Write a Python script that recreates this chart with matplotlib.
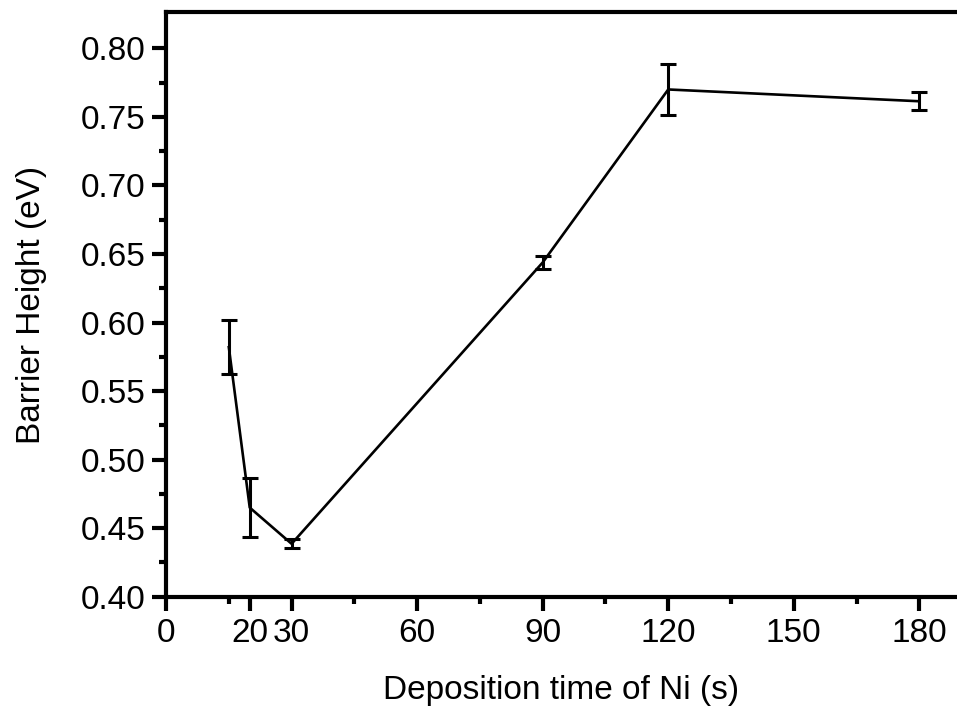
import matplotlib
matplotlib.use("Agg")
import matplotlib.pyplot as plt

plt.rcParams['font.family'] = ['Liberation Sans', 'DejaVu Sans']

# data
time_s = [15, 20, 30, 90, 120, 180]
barrier = [0.582, 0.465, 0.4386, 0.6438, 0.770, 0.7614]
barrier_err = [0.0198, 0.0216, 0.0033, 0.0048, 0.0186, 0.0065]

major_x = [0, 20, 30, 60, 90, 120, 150, 180]
minor_x = [15, 45, 75, 105, 135, 165]
major_y = [0.40, 0.45, 0.50, 0.55, 0.60, 0.65, 0.70, 0.75, 0.80]
minor_y = [0.425, 0.475, 0.525, 0.575, 0.625, 0.675, 0.725, 0.775]

fig = plt.figure(figsize=(9.57, 7.06), dpi=100)
ax = fig.add_axes([0.1735, 0.1548, 0.8265, 0.8278])

ax.errorbar(time_s, barrier, yerr=barrier_err, color='black', lw=1.9,
            elinewidth=2.2, capsize=5.5, capthick=2.2)

ax.set_xlim(0, 189)
ax.set_ylim(0.40, 0.8263)
ax.set_xticks(major_x)
ax.set_xticks(minor_x, minor=True)
ax.set_yticks(major_y)
ax.set_yticks(minor_y, minor=True)
ax.set_yticklabels(['%.2f' % v for v in major_y])

ax.spines['right'].set_visible(False)
for s in ['left', 'bottom', 'top']:
    ax.spines[s].set_linewidth(3)

ax.tick_params(which='major', direction='out', length=10, width=3, labelsize=24)
ax.tick_params(which='minor', direction='out', length=5, width=3)
ax.tick_params(axis='x', which='major', pad=5)
ax.tick_params(axis='y', which='major', pad=5)

ax.set_xlabel('Deposition time of Ni (s)', fontsize=24, labelpad=19)
ax.set_ylabel('Barrier Height (eV)', fontsize=24, labelpad=24)

fig.savefig('out.png', dpi=100)
